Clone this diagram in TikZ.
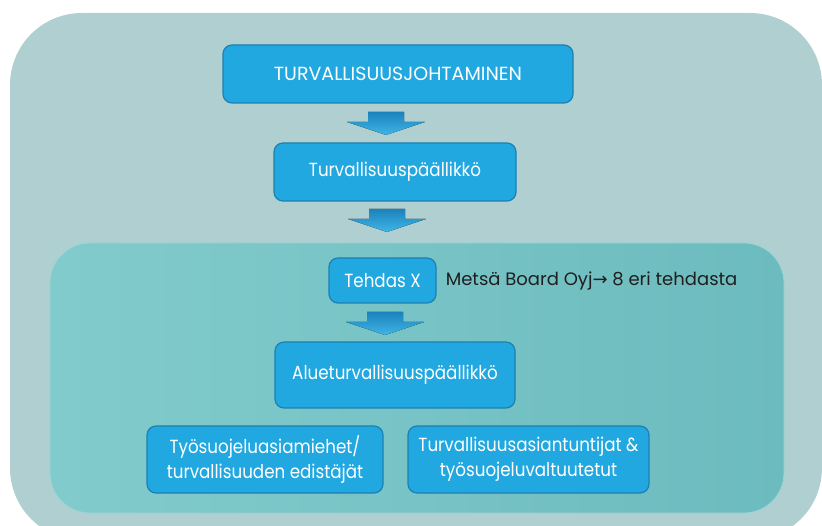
\documentclass[tikz,border=0pt]{standalone}
\usepackage{fontspec}
\setmainfont{Poppins}
\newfontfamily\boxface[FakeStretch=0.88]{Poppins}
\newfontfamily\arrowface{DejaVu Sans}
\usetikzlibrary{positioning}

\definecolor{outerbg}{HTML}{AFCFD0}
\definecolor{innerL}{HTML}{82CBCC}
\definecolor{innerR}{HTML}{6CBBBE}
\definecolor{boxblue}{HTML}{22A8E0}
\definecolor{boxline}{HTML}{1C80B2}
\definecolor{arrtop}{HTML}{1B82BC}
\definecolor{arrbot}{HTML}{40B6E6}

\tikzset{
  orgbox/.style={draw=boxline, line width=1.2pt, fill=boxblue, rounded corners=9pt,
    text=white, align=center, inner sep=0pt, font=\boxface\fontsize{19}{25}\selectfont},
  blockarrow/.style={top color=arrtop, bottom color=arrbot, draw=none},
}

\begin{document}
\begin{tikzpicture}[x=1pt,y=-1pt]
\useasboundingbox (0,0) rectangle (822,526);
% backgrounds
\fill[outerbg, rounded corners=72pt] (10,13) rectangle (822,540);
\draw[left color=innerL, right color=innerR, draw=innerL!80!white, line width=0.8pt, rounded corners=40pt] (50,243) rectangle (784,513);

% boxes
\node[orgbox, minimum width=350pt, minimum height=58pt, font=\fontsize{19}{25}\selectfont] (johto) at (398,74) {TURVALLISUUSJOHTAMINEN};
\node[orgbox, minimum width=242pt, minimum height=58pt] (turvpaal) at (395,172) {Turvallisuuspäällikkö};
\node[orgbox, minimum width=107pt, minimum height=45pt] (tehdas) at (382.5,280.5) {Tehdas X};
\node[orgbox, minimum width=240pt, minimum height=66pt] (alue) at (395,375) {Alueturvallisuuspäällikkö};
\node[orgbox, minimum width=236pt, minimum height=67pt] (edustajat) at (265,459.5) {Työsuojeluasiamiehet/\\turvallisuuden edistäjät};
\node[orgbox, minimum width=241pt, minimum height=67pt] (asiantuntijat) at (528.5,459.5) {Turvallisuusasiantuntijat \&\\työsuojeluvaltuutetut};
\node[right=9pt of tehdas, inner sep=0pt, text=black!88, font=\fontsize{18}{22}\selectfont] (metsa) {Metsä Board Oyj{\arrowface→} 8 eri tehdasta};

% arrows
\coordinate (a1) at (386,112);
\coordinate (a2) at (387,209);
\coordinate (a3) at (385,312);
\foreach \a in {a1,a2,a3}
  \fill[blockarrow, shift={(\a)}] (-18,0) -- (18,0) -- (18,10) -- (39,10) -- (0,23) -- (-39,10) -- (-18,10) -- cycle;
\end{tikzpicture}
\end{document}
